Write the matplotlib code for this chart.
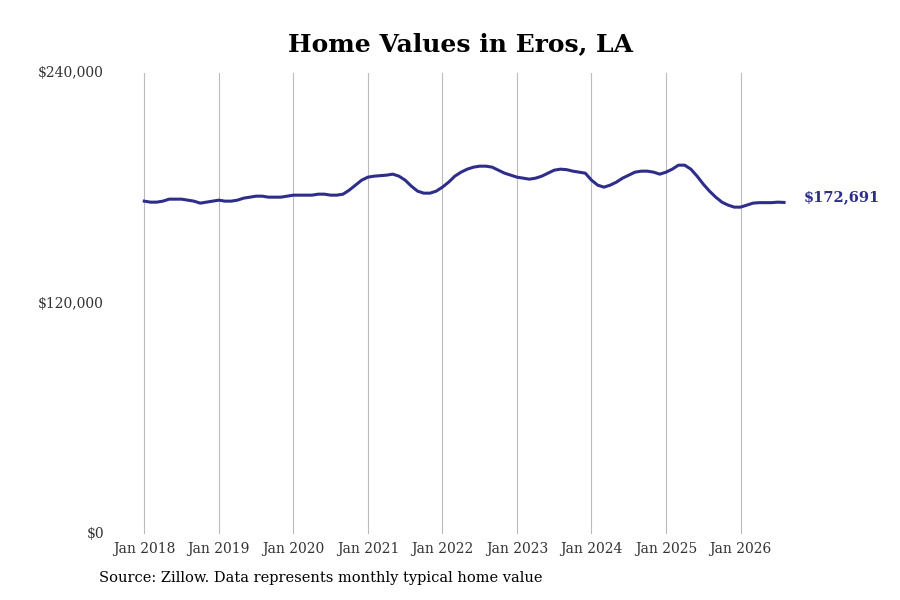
import numpy as np
import matplotlib.pyplot as plt

plt.rcParams["font.family"] = "DejaVu Serif"

# monthly typical home value, Jan 2018 .. Aug 2026
values = [
    173360, 172840, 172840, 173360, 174400, 174400, 174400, 173880, 173360, 172320, 172840, 173360,  # 2018
    173880, 173360, 173360, 173880, 174920, 175440, 175960, 175960, 175440, 175440, 175440, 175960,  # 2019
    176480, 176480, 176480, 176480, 177000, 177000, 176480, 176480, 177000, 179090, 181690, 184290,  # 2020
    185850, 186380, 186640, 186900, 187420, 186380, 184290, 181170, 178570, 177520, 177520, 178570,  # 2021
    180650, 183250, 186380, 188460, 190020, 191060, 191580, 191580, 191060, 189500, 187940, 186900,  # 2022
    185850, 185330, 184810, 185330, 186380, 187940, 189500, 190020, 189760, 188980, 188460, 187940,  # 2023
    184290, 181690, 180650, 181690, 183250, 185330, 186900, 188460, 188980, 188980, 188460, 187420,  # 2024
    188460, 190020, 192100, 192100, 190020, 186380, 182210, 178570, 175440, 172840, 171280, 170240,  # 2025
    170240, 171280, 172320, 172580, 172580, 172580, 172840, 172691,  # 2026
]
dates = 2018 + np.arange(len(values)) / 12
years = list(range(2018, 2027))
tick_labels = [f"Jan {y}" for y in years]

fig = plt.figure(figsize=(9, 6), dpi=100)
ax = fig.add_axes([0.128, 0.11, 0.752, 0.768])
ax.plot(dates, values, color="#2e2e8a", linewidth=2.2)

ax.set_xlim(2017.61, 2026.69)
ax.set_ylim(0, 240000)
ax.set_xticks(years)
ax.set_xticklabels(tick_labels, fontsize=10, color="#333")
ax.set_yticks([0, 120000, 240000])
ax.set_yticklabels(["$0", "$120,000", "$240,000"], fontsize=10, color="#333")
ax.tick_params(length=0, pad=6)
ax.tick_params(axis="y", pad=8)
for lbl in ax.get_yticklabels():
    lbl.set_verticalalignment("center")
ax.grid(axis="x", color="#bbbbbb", linewidth=0.8)
for s in ax.spines.values():
    s.set_visible(False)

ax.annotate(f"${values[-1]:,}", xy=(dates[-1], values[-1]), xytext=(14, 4),
            textcoords="offset points", fontsize=10.5, fontweight="bold",
            color="#2e2e8a", va="center", annotation_clip=False)

fig.text(0.512, 0.927, "Home Values in Eros, LA", ha="center", va="center",
         fontsize=18, fontweight="bold")
fig.text(0.11, 0.03, "Source: Zillow. Data represents monthly typical home value",
         fontsize=10.5)

fig.savefig("out.png", dpi=100)
